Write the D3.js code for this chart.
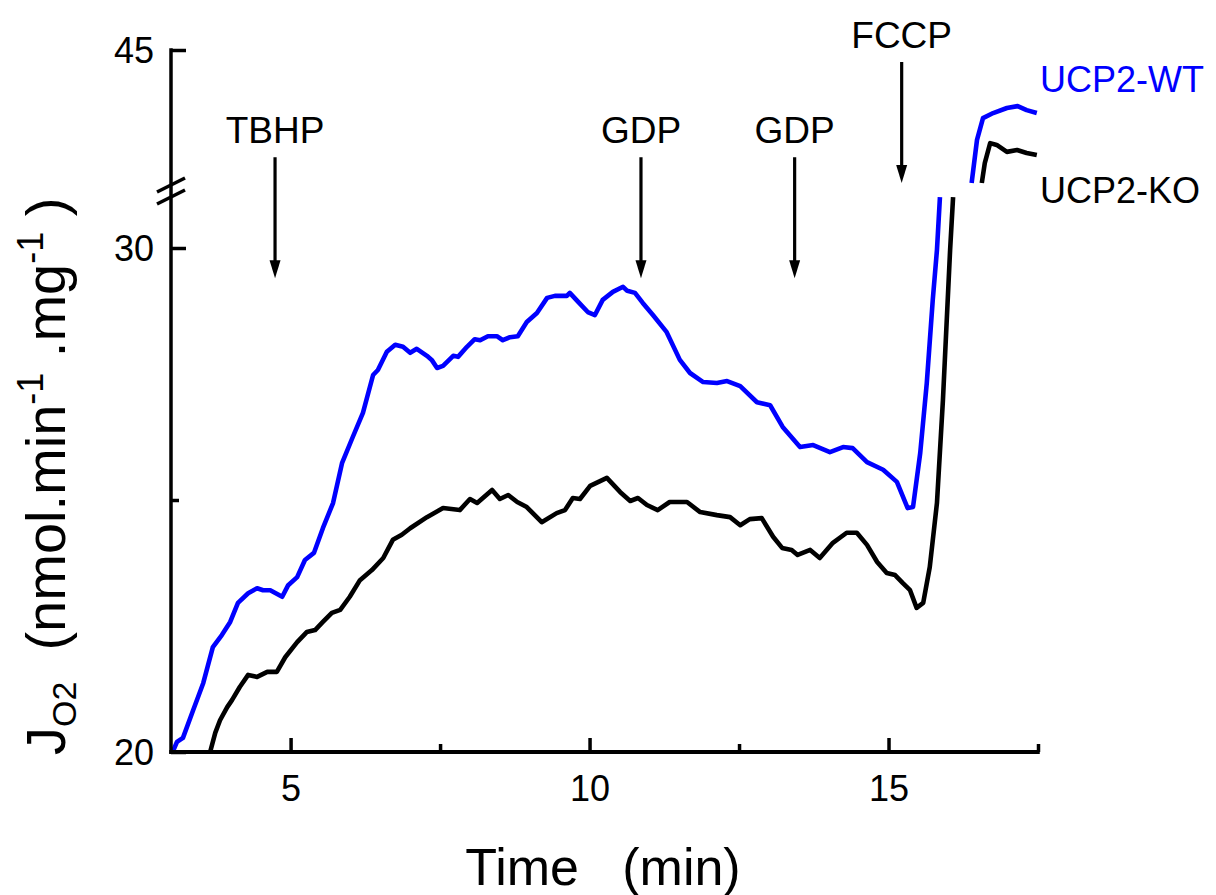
<!DOCTYPE html>
<html>
<head>
<meta charset="utf-8">
<script src="https://cdn.jsdelivr.net/npm/d3@7"></script>
<style>
  html, body { margin: 0; padding: 0; background: #fff; }
  text { font-family: "Liberation Sans", Arial, Helvetica, sans-serif; }
</style>
</head>
<body>
<svg id="chart" width="1216" height="895"></svg>
<script>
// ---------------- data ----------------
// UCP2-WT, lower (20–31) segment
const wtLowTime = [3.02,3.10,3.20,3.37,3.54,3.70,3.85,3.99,4.12,4.29,4.44,4.54,4.66,4.86,4.96,5.11,5.24,5.39,5.54,5.71,5.86,6.04,6.21,6.38,6.46,6.61,6.75,6.88,7.00,7.11,7.28,7.36,7.45,7.55,7.72,7.80,7.95,8.08,8.17,8.30,8.45,8.55,8.67,8.80,8.95,9.12,9.29,9.42,9.62,9.67,9.81,9.97,10.09,10.22,10.39,10.56,10.63,10.76,10.89,11.06,11.29,11.51,11.68,11.90,12.13,12.30,12.52,12.80,13.02,13.23,13.52,13.74,14.02,14.24,14.40,14.64,14.91,15.14,15.32,15.41,15.53,15.64,15.74,15.81,15.86];
const wtLowValue = [19.98,20.20,20.28,20.83,21.37,22.08,22.32,22.58,22.96,23.15,23.25,23.21,23.21,23.08,23.31,23.47,23.81,23.95,24.44,24.94,25.73,26.25,26.73,27.48,27.58,27.94,28.08,28.04,27.92,28.00,27.86,27.78,27.62,27.66,27.86,27.84,28.04,28.19,28.17,28.25,28.25,28.17,28.23,28.25,28.53,28.71,29.01,29.05,29.05,29.11,28.93,28.73,28.67,28.97,29.13,29.23,29.15,29.11,28.91,28.67,28.33,27.78,27.52,27.34,27.32,27.36,27.26,26.94,26.88,26.45,26.05,26.09,25.95,26.05,26.03,25.75,25.60,25.36,24.84,24.86,25.93,27.32,28.97,29.96,31.01];
// UCP2-KO, lower segment
const koLowTime = [3.65,3.74,3.82,3.94,4.02,4.15,4.29,4.44,4.61,4.77,4.91,5.11,5.27,5.41,5.54,5.69,5.83,5.99,6.16,6.36,6.55,6.71,6.86,7.00,7.28,7.55,7.83,8.00,8.12,8.37,8.50,8.64,8.79,8.95,9.20,9.45,9.59,9.72,9.84,10.01,10.29,10.51,10.68,10.81,10.96,11.14,11.34,11.63,11.85,12.13,12.35,12.52,12.68,12.88,13.07,13.22,13.38,13.48,13.69,13.85,14.07,14.30,14.47,14.64,14.81,14.97,15.11,15.24,15.36,15.47,15.58,15.69,15.81,15.91,16.03,16.08];
const koLowValue = [19.98,20.38,20.63,20.89,21.03,21.29,21.53,21.49,21.59,21.59,21.88,22.18,22.38,22.42,22.58,22.76,22.82,23.08,23.41,23.61,23.85,24.21,24.31,24.44,24.66,24.84,24.80,25.02,24.94,25.20,25.02,25.10,24.96,24.86,24.56,24.74,24.80,25.04,25.02,25.28,25.44,25.16,24.98,25.04,24.90,24.80,24.96,24.96,24.76,24.70,24.66,24.50,24.62,24.64,24.27,24.05,24.01,23.91,24.01,23.85,24.15,24.35,24.35,24.11,23.77,23.55,23.51,23.35,23.21,22.86,22.96,23.67,24.94,26.98,29.96,31.01];
// upper (40–45) segment after FCCP
const wtHighTime = [16.39,16.48,16.58,16.75,16.98,17.16,17.31,17.48];
const wtHighValue = [40.00,41.62,42.44,42.63,42.82,42.89,42.74,42.63];
const koHighTime = [16.56,16.61,16.70,16.81,16.98,17.15,17.31,17.48];
const koHighValue = [40.00,40.75,41.50,41.43,41.17,41.24,41.13,41.05];

// axes
const xMajorTicks = [5, 10, 15];
const xMinorTicks = [7.5, 12.5, 17.5];
const yLowMajorTicks = [20, 30];
const yLowMinorTicks = [25];
const yHighTicks = [45];

// annotations
const annotLabels = ["TBHP", "GDP", "GDP", "FCCP"];
const annotTime   = [4.74, 10.86, 13.43, 15.22];
const seriesNames = ["UCP2-WT", "UCP2-KO"];
const seriesColors = ["#0000ff", "#000000"];

// ---------------- layout ----------------
const svg = d3.select("#chart");
svg.append("rect").attr("width", 1216).attr("height", 895).attr("fill", "#fff");

const x = d3.scaleLinear().domain([3, 17.5]).range([171, 1038]);
const yLow = d3.scaleLinear().domain([20, 30]).range([752, 248]);
const yHigh = d3.scaleLinear().domain([40, 45]).range([183, 50]);
const axisX = 171, axisY = 752;

// ---------------- curves ----------------
function pts(t, v) { return t.map((d, i) => [d, v[i]]); }
const lineLow = d3.line().x(d => x(d[0])).y(d => yLow(d[1])).curve(d3.curveLinear);
const lineHigh = d3.line().x(d => x(d[0])).y(d => yHigh(d[1])).curve(d3.curveLinear);

const curves = [
  [pts(wtLowTime, wtLowValue), lineLow, seriesColors[0]],
  [pts(koLowTime, koLowValue), lineLow, seriesColors[1]],
  [pts(wtHighTime, wtHighValue), lineHigh, seriesColors[0]],
  [pts(koHighTime, koHighValue), lineHigh, seriesColors[1]],
];
curves.forEach(([data, gen, col]) => {
  svg.append("path").datum(data)
    .attr("d", gen)
    .attr("fill", "none")
    .attr("stroke", col)
    .attr("stroke-width", 4.6)
    .attr("stroke-linejoin", "round")
    .attr("stroke-linecap", "butt");
});

// ---------------- axes ----------------
const tickFont = 36;
function styleAxis(g) {
  g.select(".domain").remove();
  g.selectAll(".tick line").attr("stroke", "#000").attr("stroke-width", 3.5);
  g.selectAll(".tick text").attr("font-size", tickFont).attr("fill", "#000")
    .attr("font-family", "Liberation Sans, Arial, sans-serif");
}

// x axis
const gx = svg.append("g").attr("transform", `translate(0,${axisY})`)
  .call(d3.axisBottom(x).tickValues(xMajorTicks).tickSize(-14).tickFormat(d3.format("d")));
styleAxis(gx);
gx.selectAll(".tick text").attr("y", 49).attr("dy", 0);
const gxm = svg.append("g").attr("transform", `translate(0,${axisY})`)
  .call(d3.axisBottom(x).tickValues(xMinorTicks).tickSize(-8).tickFormat(""));
styleAxis(gxm);

// y axis lower
const gyl = svg.append("g").attr("transform", `translate(${axisX},0)`)
  .call(d3.axisLeft(yLow).tickValues(yLowMajorTicks).tickSize(-15).tickPadding(17).tickFormat(d3.format("d")));
styleAxis(gyl);
gyl.selectAll(".tick text").attr("dy", "0.36em");
const gylm = svg.append("g").attr("transform", `translate(${axisX},0)`)
  .call(d3.axisLeft(yLow).tickValues(yLowMinorTicks).tickSize(-8).tickFormat(""));
styleAxis(gylm);
// y axis upper
const gyh = svg.append("g").attr("transform", `translate(${axisX},0)`)
  .call(d3.axisLeft(yHigh).tickValues(yHighTicks).tickSize(-15).tickPadding(17).tickFormat(d3.format("d")));
styleAxis(gyh);
gyh.selectAll(".tick text").attr("dy", "0.36em");

// axis lines
svg.append("line").attr("x1", axisX).attr("x2", axisX)
  .attr("y1", yHigh(45) - 1.75).attr("y2", axisY + 1.75)
  .attr("stroke", "#000").attr("stroke-width", 3.5);
svg.append("line").attr("x1", axisX - 1.75).attr("x2", x(17.5) + 1.75)
  .attr("y1", axisY).attr("y2", axisY)
  .attr("stroke", "#000").attr("stroke-width", 4);

// break marks on y axis
[0, 12].forEach(off => {
  svg.append("line")
    .attr("x1", axisX - 14).attr("y1", 192 + off)
    .attr("x2", axisX + 14).attr("y2", 178 + off)
    .attr("stroke", "#000").attr("stroke-width", 3.5);
});

// ---------------- axis titles ----------------
svg.append("text")
  .attr("x", 603).attr("y", 885)
  .attr("text-anchor", "middle")
  .attr("font-size", 52)
  .text("Time\u00A0\u00A0\u00A0(min)");

const ylab = svg.append("text")
  .attr("transform", "translate(65,755) rotate(-90)")
  .attr("font-size", 56)
  .attr("text-anchor", "start");
ylab.append("tspan").text("J");
ylab.append("tspan").attr("font-size", 34).attr("dy", 11).text("O2");
ylab.append("tspan").attr("dy", -11).text("\u00A0\u00A0(nmol.min");
ylab.append("tspan").attr("font-size", 36).attr("dy", -22).text("-1");
ylab.append("tspan").attr("dy", 22).text("\u00A0.mg");
ylab.append("tspan").attr("font-size", 36).attr("dy", -22).text("-1");
ylab.append("tspan").attr("dy", 22).text("\u00A0)");

// ---------------- annotations (arrows) ----------------
const arrowTipValue = [29.4, 29.4, 29.4, null]; // null => tip at upper panel base
annotLabels.forEach((lab, i) => {
  const ax = x(annotTime[i]);
  const tipY = arrowTipValue[i] === null ? yHigh(40) : yLow(arrowTipValue[i]);
  const topY = tipY - 121;
  svg.append("line").attr("x1", ax).attr("x2", ax)
    .attr("y1", topY).attr("y2", tipY - 14)
    .attr("stroke", "#000").attr("stroke-width", 3.2);
  svg.append("path")
    .attr("d", `M${ax - 5.5},${tipY - 18} L${ax + 5.5},${tipY - 18} L${ax},${tipY} Z`)
    .attr("fill", "#000");
  svg.append("text")
    .attr("x", ax).attr("y", topY - 14)
    .attr("text-anchor", "middle")
    .attr("font-size", 37)
    .text(lab);
});

// ---------------- series labels ----------------
svg.append("text").attr("x", 1040).attr("y", 92)
  .attr("font-size", 36).attr("fill", seriesColors[0]).text(seriesNames[0]);
svg.append("text").attr("x", 1040).attr("y", 203)
  .attr("font-size", 36).attr("fill", seriesColors[1]).text(seriesNames[1]);
</script>
</body>
</html>
